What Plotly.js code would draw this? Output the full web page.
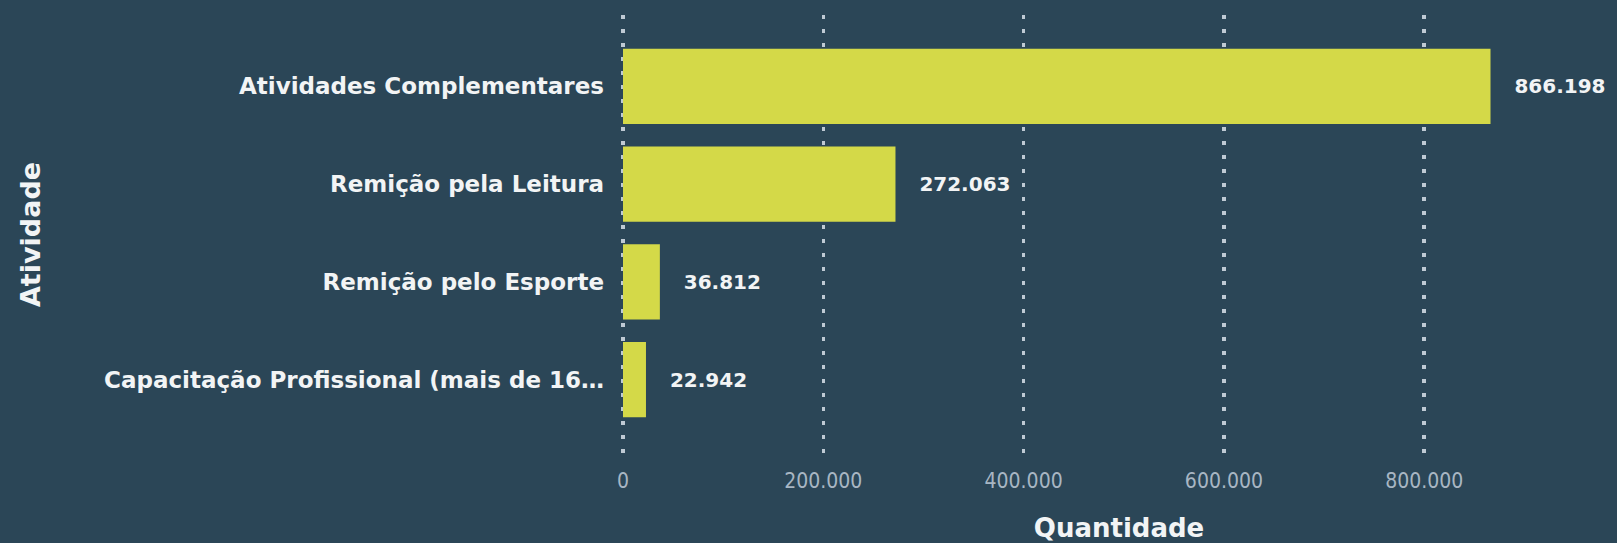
<!DOCTYPE html>
<html><head><meta charset="utf-8">
<script src="https://cdn.plot.ly/plotly-3.0.1.min.js"></script>
<style>html,body{margin:0;padding:0;background:#2B4657;}</style>
</head><body>
<div id="chart" style="width:1617px;height:543px;"></div>
<script>
const categories = ["Atividades Complementares", "Remição pela Leitura", "Remição pelo Esporte", "Capacitação Profissional (mais de 16…"];
const values = [866198, 272063, 36812, 22942];
const xTickVals = [0, 200000, 400000, 600000, 800000];
const xTickText = ["0", "200.000", "400.000", "600.000", "800.000"];

const BOLD = "'DejaVu Sans', sans-serif";
const COND = "'DejaVu Sans Condensed', 'DejaVu Sans', sans-serif";

const trace = {
  type: 'bar', orientation: 'h',
  x: values, y: categories,
  marker: {color: '#D4D948'},
  texttemplate: '   %{x:,}', textposition: 'outside',
  textfont: {color: '#F2F4F5', size: 20, family: BOLD, weight: 'bold'},
  cliponaxis: false, hoverinfo: 'none'
};
const layout = {
  width: 1617, height: 543,
  paper_bgcolor: '#2B4657', plot_bgcolor: '#2B4657',
  separators: ',.',
  margin: {l: 621, r: 0, t: 15, b: 89},
  bargap: 0.23,
  showlegend: false,
  xaxis: {
    range: [-2000, 992500], tickvals: xTickVals, ticktext: xTickText,
    showgrid: true, gridcolor: '#BFCAD4', gridwidth: 3.5, griddash: '3.5px,10.5px',
    zeroline: false, showline: false, ticks: '',
    ticklabelstandoff: 12,
    tickfont: {color: '#A8B6C3', size: 21, family: COND},
    title: {text: 'Quantidade', font: {color: '#F2F4F5', size: 26, family: BOLD, weight: 'bold'}, standoff: 35}
  },
  yaxis: {
    type: 'category', range: [3.76, -0.73], showgrid: false, zeroline: false, ticks: '',
    ticklabelstandoff: 16,
    tickfont: {color: '#F2F4F5', size: 23, family: BOLD, weight: 'bold'},
    title: {text: 'Atividade', font: {color: '#F2F4F5', size: 27, family: BOLD, weight: 'bold'}, standoff: 55}
  }
};
Plotly.newPlot('chart', [trace], layout, {displayModeBar: false, staticPlot: true});
</script>
</body></html>
